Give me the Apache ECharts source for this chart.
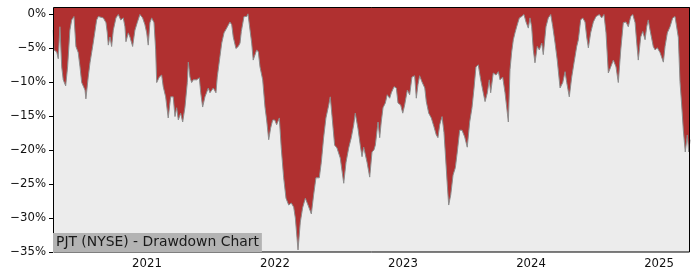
<!DOCTYPE html>
<html>
<head>
<meta charset="utf-8">
<script src="https://cdn.jsdelivr.net/npm/echarts@6/dist/echarts.min.js"></script>
<style>html,body{margin:0;padding:0;background:#fff}#c{width:700px;height:280px}</style>
</head>
<body>
<div id="c"></div>
<script>
// time as decimal year
var times = [2020.268,2020.273,2020.295,2020.307,2020.320,2020.334,2020.346,2020.365,2020.380,2020.398,2020.412,2020.430,2020.445,2020.463,2020.477,2020.490,2020.516,2020.523,2020.541,2020.555,2020.580,2020.607,2020.620,2020.633,2020.659,2020.680,2020.690,2020.698,2020.711,2020.724,2020.737,2020.758,2020.776,2020.795,2020.815,2020.828,2020.836,2020.854,2020.867,2020.888,2020.906,2020.924,2020.945,2020.966,2020.984,2020.998,2021.010,2021.023,2021.037,2021.055,2021.068,2021.076,2021.096,2021.115,2021.127,2021.146,2021.166,2021.185,2021.205,2021.219,2021.232,2021.245,2021.263,2021.279,2021.297,2021.315,2021.323,2021.336,2021.349,2021.362,2021.388,2021.409,2021.420,2021.435,2021.453,2021.479,2021.492,2021.518,2021.539,2021.549,2021.570,2021.584,2021.602,2021.623,2021.648,2021.662,2021.674,2021.695,2021.713,2021.727,2021.737,2021.758,2021.779,2021.789,2021.799,2021.818,2021.830,2021.857,2021.870,2021.883,2021.904,2021.922,2021.935,2021.951,2021.966,2021.982,2021.998,2022.013,2022.034,2022.049,2022.068,2022.086,2022.107,2022.127,2022.146,2022.159,2022.180,2022.198,2022.216,2022.237,2022.258,2022.284,2022.302,2022.320,2022.346,2022.362,2022.380,2022.398,2022.420,2022.432,2022.445,2022.466,2022.484,2022.510,2022.537,2022.555,2022.576,2022.596,2022.615,2022.627,2022.648,2022.666,2022.680,2022.693,2022.719,2022.740,2022.758,2022.773,2022.784,2022.805,2022.818,2022.830,2022.844,2022.862,2022.877,2022.896,2022.909,2022.930,2022.948,2022.961,2022.982,2022.998,2023.013,2023.034,2023.052,2023.070,2023.091,2023.104,2023.117,2023.130,2023.148,2023.170,2023.182,2023.201,2023.221,2023.242,2023.260,2023.273,2023.287,2023.305,2023.320,2023.330,2023.346,2023.357,2023.373,2023.391,2023.409,2023.424,2023.443,2023.461,2023.482,2023.502,2023.521,2023.539,2023.555,2023.570,2023.588,2023.607,2023.627,2023.641,2023.659,2023.674,2023.685,2023.705,2023.727,2023.745,2023.758,2023.779,2023.797,2023.810,2023.823,2023.836,2023.849,2023.862,2023.875,2023.888,2023.909,2023.927,2023.945,2023.961,2023.979,2023.992,2024.005,2024.018,2024.031,2024.049,2024.065,2024.084,2024.096,2024.117,2024.135,2024.154,2024.170,2024.188,2024.205,2024.227,2024.248,2024.266,2024.279,2024.299,2024.318,2024.336,2024.357,2024.370,2024.388,2024.404,2024.422,2024.435,2024.448,2024.466,2024.487,2024.508,2024.534,2024.552,2024.570,2024.586,2024.604,2024.623,2024.643,2024.664,2024.682,2024.701,2024.721,2024.742,2024.760,2024.779,2024.795,2024.813,2024.826,2024.838,2024.857,2024.873,2024.891,2024.904,2024.916,2024.930,2024.943,2024.955,2024.969,2024.987,2025.008,2025.034,2025.047,2025.065,2025.086,2025.107,2025.125,2025.138,2025.151,2025.164,2025.177,2025.190,2025.205,2025.221,2025.232,2025.242];
var drawdown = [-2.4,-5.3,-5.6,-6.6,-1.9,-7.8,-9.7,-10.6,-7.8,-2.4,-0.9,-0.4,-4.8,-5.7,-7.8,-10.1,-11.2,-12.5,-9.3,-7.2,-4.3,-0.9,-0.4,-0.6,-0.6,-1.3,-2.8,-4.6,-3.4,-4.8,-2.4,-0.6,-0.1,-0.9,-0.6,-1.9,-4.1,-2.8,-3.4,-4.8,-2.4,-1.3,-0.1,-0.6,-1.6,-2.8,-4.6,-1.3,-0.6,-1.3,-5.3,-10.1,-9.3,-9.0,-10.7,-12.2,-15.3,-12.2,-12.2,-15.1,-13.8,-15.6,-14.6,-15.9,-13.7,-10.1,-7.1,-9.3,-10.1,-9.7,-9.7,-9.4,-11.6,-13.7,-12.2,-10.9,-11.6,-10.9,-11.6,-9.3,-6.3,-4.3,-2.8,-2.1,-1.2,-1.6,-3.4,-5.1,-4.8,-4.3,-2.6,-0.4,-0.4,0,-0.1,-4.3,-6.8,-5.3,-5.6,-7.8,-9.7,-13.7,-15.6,-18.5,-16.8,-15.6,-15.6,-16.3,-15.3,-19.7,-24.1,-27.1,-28.1,-27.8,-28.4,-30.0,-34.7,-30.6,-28.5,-27.1,-28.1,-29.4,-26.6,-24.1,-24.1,-21.8,-18.2,-15.3,-13.4,-12.2,-14.9,-19.3,-19.7,-21.2,-24.9,-21.8,-19.7,-18.2,-16.3,-14.6,-16.8,-19.3,-21.0,-19.6,-21.8,-24.0,-20.3,-20.0,-19.3,-15.9,-18.2,-15.9,-13.8,-13.1,-11.9,-12.4,-11.6,-10.7,-10.9,-13.1,-13.4,-14.6,-13.4,-11.2,-11.9,-9.3,-9.1,-12.4,-10.4,-9.1,-10.0,-10.9,-12.9,-14.6,-15.3,-16.6,-17.8,-18.2,-16.3,-15.1,-17.4,-20.3,-25.1,-28.1,-26.6,-23.7,-22.6,-20.3,-17.1,-17.1,-18.1,-19.6,-15.9,-13.8,-10.9,-7.8,-7.5,-9.7,-11.6,-12.9,-11.6,-9.7,-11.6,-8.7,-9.0,-8.5,-9.7,-9.3,-11.6,-13.7,-15.9,-8.2,-5.6,-3.8,-2.8,-1.9,-0.6,-0.4,-0.1,-1.2,-2.1,-0.6,-1.9,-5.3,-7.2,-4.8,-5.3,-4.3,-6.0,-1.9,-0.6,-0.1,-1.9,-4.3,-6.8,-10.9,-10.1,-8.5,-10.1,-12.2,-9.3,-7.2,-4.8,-3.8,-0.9,-0.6,-1.2,-3.4,-5.0,-2.8,-1.2,-0.4,-0.1,-0.6,-0.1,-2.8,-8.7,-7.8,-6.8,-7.8,-10.1,-5.3,-1.3,-1.2,-1.9,-0.4,-0.1,-1.3,-4.3,-6.8,-3.4,-2.6,-3.8,-1.9,-0.9,-2.4,-2.6,-4.8,-5.3,-5.0,-5.7,-7.1,-4.8,-2.8,-1.9,-0.6,-0.4,-0.6,-3.5,-10.0,-13.4,-17.1,-20.3,-17.8,-20.3,-18.5];
var yearTicks = [2021, 2022, 2023, 2024, 2025];
var pctTicks = [0, -5, -10, -15, -20, -25, -30, -35];
var chartTitle = 'PJT (NYSE) - Drawdown Chart';

var data = times.map(function (t, i) { return [t, drawdown[i]]; });
var chart = echarts.init(document.getElementById('c'), null, {renderer: 'canvas'});
var font = 'DejaVu Sans';
chart.setOption({
  animation: false,
  backgroundColor: '#ffffff',
  grid: {left: 53, right: 10, top: 7, bottom: 28, show: true, backgroundColor: '#ececec', borderColor: '#000', borderWidth: 0, containLabel: false},
  xAxis: {
    type: 'value', min: 2020.266, max: 2025.242,
    splitLine: {show: false},
    axisLine: {show: false},
    axisTick: {show: true, length: 4, inside: false, lineStyle: {color: '#000', width: 1}, customValues: yearTicks},
    axisLabel: {customValues: yearTicks, formatter: function (v) { return String(Math.round(v)); }, color: '#111', fontFamily: font, fontSize: 11.7, margin: 6}
  },
  yAxis: {
    type: 'value', min: -35, max: 1,
    splitLine: {show: false},
    axisLine: {show: false},
    axisTick: {show: true, length: 4, lineStyle: {color: '#000', width: 1}, customValues: pctTicks},
    axisLabel: {customValues: pctTicks, formatter: function (v) { return (v < 0 ? '\u2212' : '') + Math.abs(v) + '%'; }, color: '#111', fontFamily: font, fontSize: 11.7, margin: 7}
  },
  series: [{
    type: 'line', data: data, showSymbol: false, symbol: 'none',
    lineStyle: {color: '#8c8c8c', width: 1},
    areaStyle: {color: '#b03030', opacity: 1, origin: 'end'},
    z: 2
  }],
  graphic: [
    {type: 'rect', z: 100, silent: true, shape: {x: 53.5, y: 7.5, width: 636, height: 244.5}, style: {fill: null, stroke: '#000', lineWidth: 1}},
    {type: 'text', z: 101, left: 53, top: 233, style: {text: chartTitle, fill: '#1a1a1a', font: '13.9px "DejaVu Sans"', lineHeight: 14, backgroundColor: '#b3b3b3', padding: [2.5, 3, 2.5, 3]}}
  ]
});
</script>
</body>
</html>
